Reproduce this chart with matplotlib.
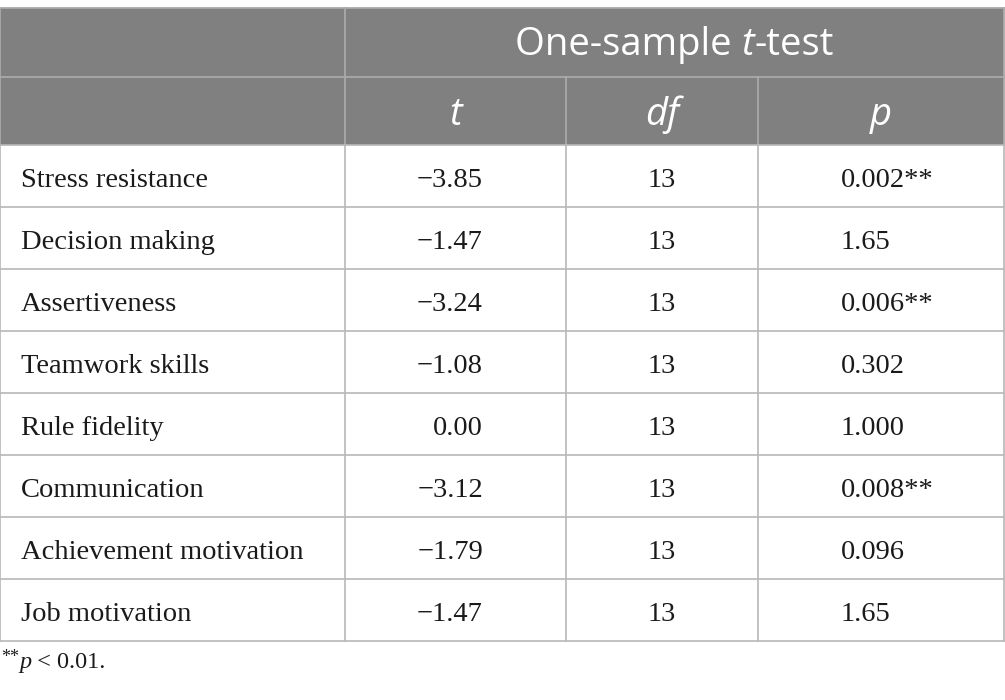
import matplotlib
matplotlib.use("Agg")
import matplotlib.pyplot as plt
from matplotlib.patches import Rectangle

# table content
rows = ["Stress resistance", "Decision making", "Assertiveness", "Teamwork skills",
        "Rule fidelity", "Communication", "Achievement motivation", "Job motivation"]
t_vals = [-3.85, -1.47, -3.24, -1.08, 0.00, -3.12, -1.79, -1.47]
df_vals = [13, 13, 13, 13, 13, 13, 13, 13]
p_labels = ["0.002**", "1.65", "0.006**", "0.302", "1.000", "0.008**", "0.096", "1.65"]
sub_heads = ["t", "df", "p"]

# layout (pixels)
col_x = [0, 345, 566, 758, 1004]
top, head_mid, head_bot = 8, 77, 145
row_h = 62
head_fill = "#808080"
head_line = "#a9a9a9"
body_line = "#b8b8b8"
serif = "Liberation Serif"
sans = "Open Sans"
body_fs = 20.5
head_fs = 27.5

fig = plt.figure(figsize=(10.05, 7.0), dpi=100)
ax = fig.add_axes([0, 0, 1, 1])
ax.set_xlim(0, 1005)
ax.set_ylim(700, 0)
ax.axis("off")
renderer = fig.canvas.get_renderer()


def text_run(x, y, pieces, ha="left"):
    # pieces: (string, kwargs, dy) drawn one after another
    objs = []
    for s, kw, dy in pieces:
        objs.append(ax.text(x, y + dy, s, va="baseline", ha="left", **kw))
    widths = [o.get_window_extent(renderer).width for o in objs]
    start = x - sum(widths) / 2 if ha == "center" else x
    for o, w in zip(objs, widths):
        o.set_x(start)
        start += w


# header background
bottom = head_bot + row_h * len(rows)
ax.add_patch(Rectangle((0, top), col_x[-1], head_bot - top, color=head_fill, lw=0))

# header lines
ax.plot([0, col_x[-1]], [top, top], color=head_line, lw=1.3)
ax.plot([0, col_x[-1]], [head_mid, head_mid], color=head_line, lw=1.3)
ax.plot([0, 0], [top, head_bot], color=head_line, lw=1.3)
ax.plot([col_x[1], col_x[1]], [top, head_bot], color=head_line, lw=1.3)
ax.plot([col_x[-1], col_x[-1]], [top, head_bot], color=head_line, lw=1.3)
for cx in col_x[2:4]:
    ax.plot([cx, cx], [head_mid, head_bot], color=head_line, lw=1.3)

# body lines
for i in range(len(rows) + 1):
    y = head_bot + i * row_h
    ax.plot([0, col_x[-1]], [y, y], color=body_line, lw=1.2)
for cx in col_x:
    ax.plot([cx, cx], [head_bot, bottom], color=body_line, lw=1.2)

# header text
hkw = dict(family=sans, fontsize=head_fs, color="white")
hkw_it = dict(hkw, style="italic")
text_run((col_x[1] + col_x[-1]) / 2, 55,
         [("One-sample ", hkw, 0), ("t", hkw_it, 0), ("-test", hkw, 0)], ha="center")
for j, lab in enumerate(sub_heads):
    ax.text((col_x[j + 1] + col_x[j + 2]) / 2, 125, lab, ha="center", va="baseline", **hkw_it)

# body text
bkw = dict(family=serif, fontsize=body_fs, color="#1a1a1a")
for i, name in enumerate(rows):
    yb = head_bot + i * row_h + 42
    ax.text(21, yb, name, ha="left", va="baseline", **bkw)
    ax.text(483, yb, f"{t_vals[i]:.2f}".replace("-", "\u2212"), ha="right", va="baseline", **bkw)
    ax.text((col_x[2] + col_x[3]) / 2, yb, str(df_vals[i]), ha="center", va="baseline", **bkw)
    ax.text(841, yb, p_labels[i], ha="left", va="baseline", **bkw)

# footnote
fkw = dict(family=serif, fontsize=17.5, color="#1a1a1a")
text_run(1, 668, [("**", dict(fkw, fontsize=13), -6), ("p", dict(fkw, style="italic"), 0),
                  (" < 0.01.", fkw, 0)])

fig.savefig("out.png", dpi=100)
